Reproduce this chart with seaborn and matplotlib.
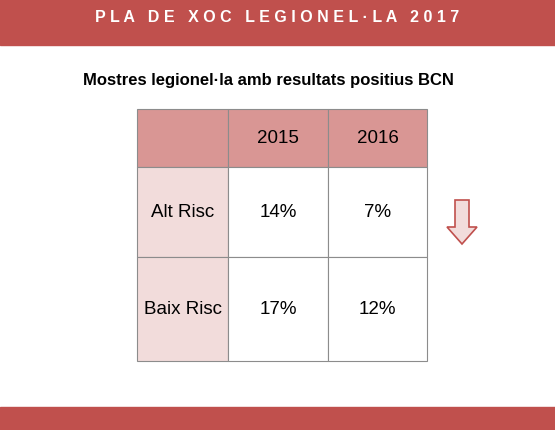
import matplotlib
matplotlib.use("Agg")
import matplotlib.pyplot as plt
import seaborn as sns
from matplotlib.patches import Rectangle, FancyArrow

sns.set_style("white")
plt.rcParams['font.family'] = ['Liberation Sans', 'DejaVu Sans']
plt.rcParams['text.color'] = 'black'

banner = "P L A   D E   X O C   L E G I O N E L · L A   2 0 1 7"
title = "Mostres legionel·la amb resultats positius BCN"
years = ["2015", "2016"]
risks = ["Alt Risc", "Baix Risc"]
values = [["14%", "7%"], ["17%", "12%"]]

red = "#c0504d"
head = "#d99694"
pale = "#f2dcdb"

fig = plt.figure(figsize=(5.55, 4.31), dpi=100)
ax = fig.add_axes([0, 0, 1, 1])
ax.set_xlim(0, 555)
ax.set_ylim(431, 0)
ax.axis("off")

ax.add_patch(Rectangle((0, 0), 555, 46, color=red))
ax.add_patch(Rectangle((0, 408), 555, 23, color=red))
ax.text(277, 18, banner, color="white", fontsize=11.5, ha="center", va="center", weight="bold")
ax.text(268, 80, title, fontsize=12, weight="bold", ha="center", va="center", color="black")

cols = [137, 228, 328, 427]
rows = [110, 168, 258, 362]
for r in range(3):
    for c in range(3):
        if r == 0:
            fc = head
        elif c == 0:
            fc = pale
        else:
            fc = "white"
        ax.add_patch(Rectangle((cols[c], rows[r]), cols[c+1]-cols[c], rows[r+1]-rows[r],
                               facecolor=fc, edgecolor="#8c8c8c", lw=0.8))
for c, y in enumerate(years):
    ax.text((cols[c+1]+cols[c+2])/2, (rows[0]+rows[1])/2, y, fontsize=13.5,
            ha="center", va="center", color="black")
for r, name in enumerate(risks):
    yc = (rows[r+1]+rows[r+2])/2
    ax.text((cols[0]+cols[1])/2, yc, name, fontsize=13.5, ha="center", va="center", color="black")
    for c in range(2):
        ax.text((cols[c+1]+cols[c+2])/2, yc, values[r][c], fontsize=13.5,
                ha="center", va="center", color="black")

ax.add_patch(FancyArrow(462, 201, 0, 44, width=14, head_width=30, head_length=17,
                        length_includes_head=True, facecolor=pale, edgecolor=red, lw=1.2))

fig.savefig("out.png", dpi=100)
